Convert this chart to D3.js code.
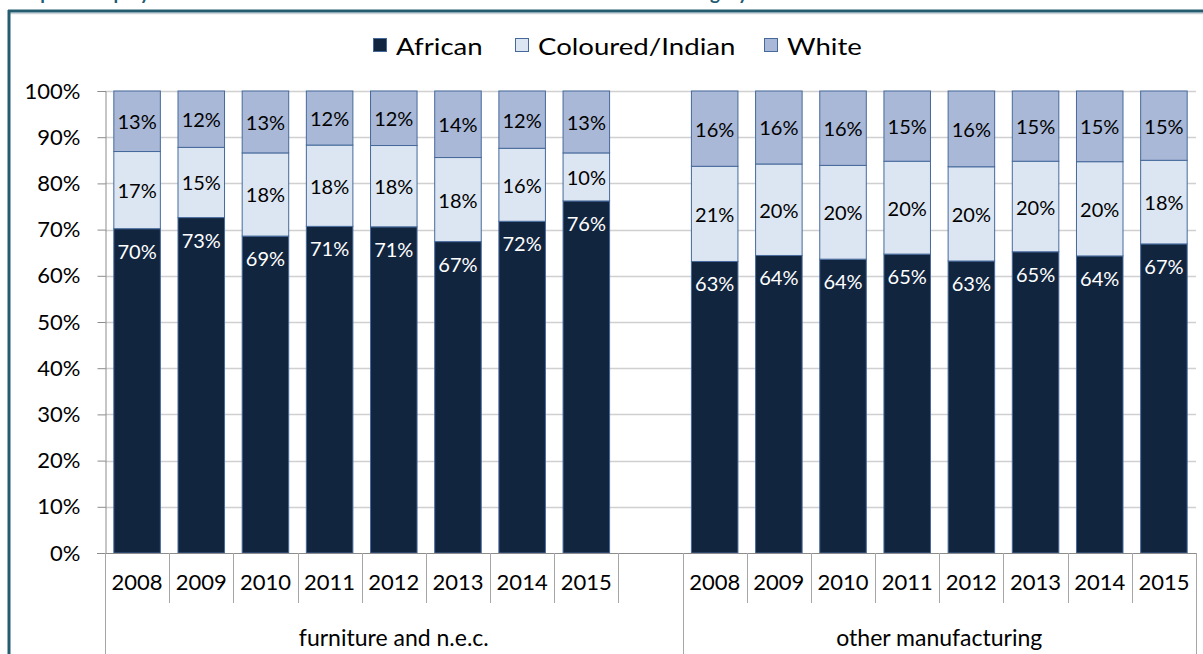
<!DOCTYPE html>
<html lang="en">
<head>
<meta charset="UTF-8" />
<title>Employment by race category</title>
<script src="https://d3js.org/d3.v7.min.js"></script>
<style>
  body { margin: 0; background: white; font-family: "Lato", sans-serif; }
  svg { display: block; }
  .tick-label { font-size: 22px; fill: #000; }
  .group-label { font-size: 23px; fill: #000; }
  .bar-label { font-size: 20px; text-anchor: middle; dominant-baseline: central; }
  .legend-label { font-size: 23px; fill: #000; dominant-baseline: central; }
  .title { font-size: 19px; font-weight: bold; fill: #1f5b72; }
</style>
</head>
<body>
<svg id="chart" width="1203" height="654"></svg>
<script>
// data (percent of employment)
const groups = ["furniture and n.e.c.", "other manufacturing"];
const years = ["2008", "2009", "2010", "2011", "2012", "2013", "2014", "2015"];
const series = ["African", "Coloured/Indian", "White"];

const furnitureAfrican  = [70.2, 72.6, 68.6, 70.7, 70.6, 67.4, 71.8, 76.2];
const furnitureColoured = [16.7, 15.2, 18.0, 17.6, 17.6, 18.2, 15.8, 10.4];
const furnitureWhite    = [13.1, 12.2, 13.4, 11.7, 11.8, 14.4, 12.4, 13.4];

const otherAfrican  = [63.1, 64.4, 63.6, 64.7, 63.2, 65.2, 64.3, 66.9];
const otherColoured = [20.6, 19.8, 20.3, 20.1, 20.4, 19.6, 20.4, 18.1];
const otherWhite    = [16.3, 15.8, 16.1, 15.2, 16.4, 15.2, 15.3, 15.0];

const yTicks = [0, 10, 20, 30, 40, 50, 60, 70, 80, 90, 100];

const colors = { "African": "#12253f", "Coloured/Indian": "#dce6f2", "White": "#a9b8d7" };
const labelColors = { "African": "#fff", "Coloured/Indian": "#000", "White": "#000" };

// build rows
const rows = [];
years.forEach((yr, i) => rows.push({ key: "f" + yr, year: yr, group: 0,
  "African": furnitureAfrican[i], "Coloured/Indian": furnitureColoured[i], "White": furnitureWhite[i] }));
const gapKey = "gap";
years.forEach((yr, i) => rows.push({ key: "o" + yr, year: yr, group: 1,
  "African": otherAfrican[i], "Coloured/Indian": otherColoured[i], "White": otherWhite[i] }));

const slotKeys = rows.slice(0, 8).map(d => d.key).concat([gapKey], rows.slice(8).map(d => d.key));

const svg = d3.select("#chart");
const plotLeft = 105, plotRight = 1196, plotTop = 91, plotBottom = 553;

const x = d3.scaleBand().domain(slotKeys).range([plotLeft, plotRight]).padding(0);
const y = d3.scaleLinear().domain([0, 100]).range([plotBottom, plotTop]);
const barW = x.bandwidth() * 0.725;

// title (cut off at the top of the picture, only descenders show) and frame
svg.append("text").attr("class", "title").attr("x", 10).attr("y", 0)
  .text("Graph 5: Employment in the sub-sector");
svg.append("text").attr("class", "title").attr("x", 748).attr("y", 0).attr("text-anchor", "end")
  .text("and race category");
svg.append("line").attr("x1", 9).attr("x2", 1203).attr("y1", 13.5).attr("y2", 13.5)
  .attr("stroke", "#c9d3d8").attr("stroke-width", 1.5);
svg.append("line").attr("x1", 8).attr("x2", 1203).attr("y1", 11).attr("y2", 11)
  .attr("stroke", "#245c70").attr("stroke-width", 3);
svg.append("line").attr("x1", 9).attr("x2", 9).attr("y1", 10).attr("y2", 654)
  .attr("stroke", "#245c70").attr("stroke-width", 3);

// gridlines
svg.append("g").selectAll("line")
  .data(yTicks.filter(t => t > 0))
  .join("line")
  .attr("x1", plotLeft).attr("x2", plotRight)
  .attr("y1", d => Math.round(y(d)) + 0.5).attr("y2", d => Math.round(y(d)) + 0.5)
  .attr("stroke", "#d0d0d0").attr("stroke-width", 1.3);

// y axis
const yAxis = svg.append("g").attr("transform", `translate(${plotLeft + 0.5},0)`)
  .call(d3.axisLeft(y).tickValues(yTicks).tickFormat(d => d + "%").tickSize(8).tickPadding(17));
yAxis.select(".domain").attr("stroke", "#8c8c8c");
yAxis.selectAll(".tick line").attr("stroke", "#8c8c8c");
yAxis.selectAll(".tick text").attr("class", "tick-label").style("font-family", "Lato, sans-serif");

// stacked bars
const stack = d3.stack().keys(series)(rows);
const layers = svg.append("g").selectAll("g")
  .data(stack)
  .join("g")
  .attr("fill", d => colors[d.key]);

layers.selectAll("rect")
  .data(d => d)
  .join("rect")
  .attr("x", d => x(d.data.key) + (x.bandwidth() - barW) / 2)
  .attr("width", barW)
  .attr("y", d => y(d[1]))
  .attr("height", d => y(d[0]) - y(d[1]))
  .attr("stroke", "#46699b")
  .attr("stroke-width", 1);

// African labels sit at the inside end, the others in the middle
layers.selectAll("text")
  .data(d => d.map(p => ({ p, key: d.key })))
  .join("text")
  .attr("class", "bar-label")
  .attr("x", d => x(d.p.data.key) + x.bandwidth() / 2)
  .attr("y", d => d.key === "African" ? y(d.p[1]) + 22 : (y(d.p[0]) + y(d.p[1])) / 2)
  .attr("fill", d => labelColors[d.key])
  .text(d => Math.round(d.p[1] - d.p[0]) + "%");

// x axis baseline
svg.append("line").attr("x1", plotLeft - 8).attr("x2", plotRight).attr("y1", plotBottom + 0.5).attr("y2", plotBottom + 0.5)
  .attr("stroke", "#8c8c8c");

// multi-level category axis
const catAxis = svg.append("g");
const sepShort = slotKeys.map(k => x(k)).slice(1);
catAxis.selectAll("line.short")
  .data(sepShort)
  .join("line")
  .attr("class", "short")
  .attr("x1", d => Math.round(d) + 0.5).attr("x2", d => Math.round(d) + 0.5)
  .attr("y1", plotBottom).attr("y2", 603)
  .attr("stroke", "#a6a6a6");

const groupEdges = [x(slotKeys[0]), x("o2008"), x(slotKeys[slotKeys.length - 1]) + x.bandwidth()];
catAxis.selectAll("line.long")
  .data(groupEdges)
  .join("line")
  .attr("class", "long")
  .attr("x1", d => Math.round(d) + 0.5).attr("x2", d => Math.round(d) + 0.5)
  .attr("y1", plotBottom).attr("y2", 654)
  .attr("stroke", "#a6a6a6");

catAxis.selectAll("text.year")
  .data(rows)
  .join("text")
  .attr("class", "tick-label year")
  .attr("x", d => x(d.key) + x.bandwidth() / 2)
  .attr("y", 581)
  .attr("text-anchor", "middle")
  .attr("dominant-baseline", "central")
  .text(d => d.year);

catAxis.selectAll("text.group")
  .data(groups)
  .join("text")
  .attr("class", "group-label")
  .attr("x", (d, i) => (groupEdges[i] + groupEdges[i + 1]) / 2)
  .attr("y", 637)
  .attr("text-anchor", "middle")
  .attr("dominant-baseline", "central")
  .text(d => d);

// legend
const legendX = [373, 515, 764];
const legend = svg.append("g").selectAll("g")
  .data(series)
  .join("g")
  .attr("transform", (d, i) => `translate(${legendX[i]},45)`);
legend.append("rect")
  .attr("x", 0.5).attr("y", -6.5).attr("width", 13).attr("height", 13)
  .attr("fill", d => colors[d]).attr("stroke", "#46699b");
legend.append("text")
  .attr("class", "legend-label")
  .attr("transform", "translate(23,1) scale(1.2,1)")
  .text(d => d);
</script>
</body>
</html>
